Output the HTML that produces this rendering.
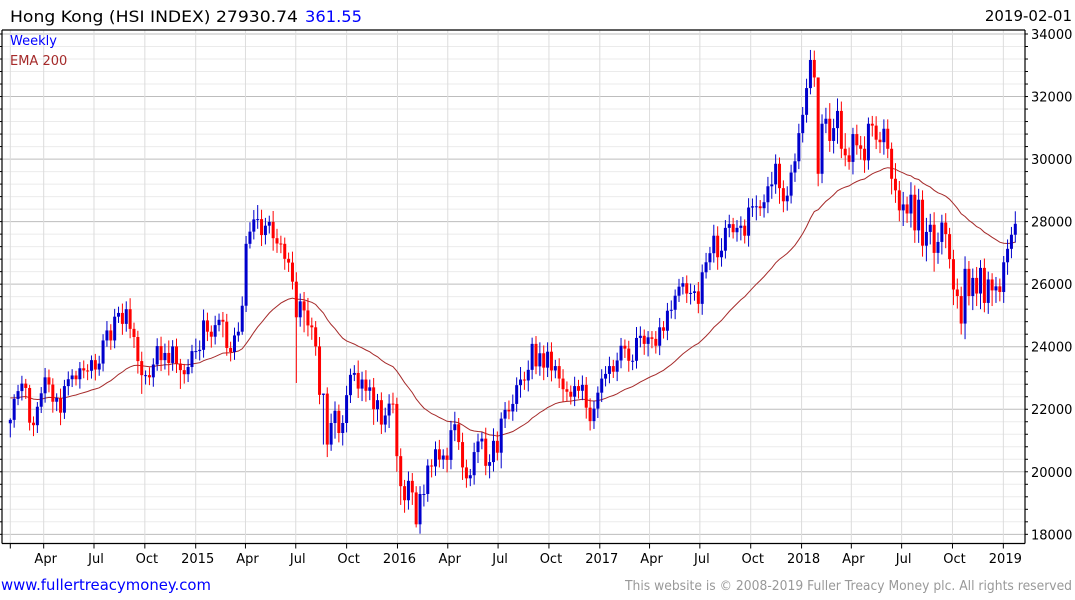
<!DOCTYPE html>
<html><head><meta charset="utf-8"><style>
html,body{margin:0;padding:0;background:#fff;}
svg{display:block;font-family:"DejaVu Sans","Liberation Sans",sans-serif;}
</style></head><body>
<svg id="chart" width="1075" height="600" viewBox="0 0 1075 600" xmlns="http://www.w3.org/2000/svg">
<rect x="0" y="0" width="1075" height="600" fill="#fff"/>
<g id="grid"></g>
<g id="ema"></g>
<g id="candles"></g>
<g id="axes"></g>
<text x="10" y="22" font-size="16" fill="#000" textLength="288" lengthAdjust="spacingAndGlyphs">Hong Kong (HSI INDEX) 27930.74</text>
<text x="305" y="22" font-size="16" fill="#0000ff" textLength="57" lengthAdjust="spacingAndGlyphs">361.55</text>
<text x="1072" y="21" font-size="15" fill="#000" text-anchor="end">2019-02-01</text>
<text x="10" y="45" font-size="13" fill="#0000ff">Weekly</text>
<text x="10" y="65" font-size="13" fill="#a52a2a">EMA 200</text>
<text x="1" y="590" font-size="15" fill="#0000ff" textLength="210" lengthAdjust="spacingAndGlyphs">www.fullertreacymoney.com</text>
<text x="625" y="590" font-size="13" fill="#999" textLength="447" lengthAdjust="spacingAndGlyphs">This website is © 2008-2019 Fuller Treacy Money plc. All rights reserved</text>
</svg>
<script>
const closes=[
21660,22330,22580,22820,22680,21570,21490,22080,22510,23020,
22790,22240,22360,21890,22740,22960,23080,22960,23310,23240,
23230,23570,23270,23460,24200,24520,24200,24960,25080,24730,
25200,24570,24310,23540,23090,23090,23020,23430,24020,23570,
23800,23480,24010,23460,23250,23120,23350,23860,23860,23900,
24840,24480,24320,24690,24860,24800,23960,23830,24360,24480,
25310,27290,27680,28070,28080,27570,27870,27990,27470,27300,
27290,26810,26690,26080,24940,25450,25160,24680,24620,24010,
22460,22500,20870,21560,21950,21240,21560,22450,23100,23160,
22660,22950,22590,22700,22000,22290,21510,21800,22180,22170,
20500,19540,19090,19710,19340,18320,19290,19290,20200,
20170,20720,20390,20520,20380,21330,21520,20950,20140,19790,19890,
20630,20970,21060,20190,20310,20990,20610,21700,21980,21930,
22170,22770,22950,22920,23260,24090,23370,23790,23330,23840,
23240,23380,22980,22640,22560,22400,22740,22590,22780,22050,
21620,22020,22530,22980,23130,23380,23200,23560,
24030,23940,23550,23550,24280,24350,24090,24300,24250,24030,
24620,24510,25150,25180,25630,25920,26030,25700,25720,25770,
25370,26380,26700,26990,27550,26860,27070,27800,27920,27660,
27800,27870,27550,28450,28490,28490,28430,28620,29130,29190,
29850,29070,28650,28830,29570,29930,30830,
31415,32270,33170,32610,29530,31130,31290,30580,30990,31540,
30330,30120,29910,30800,30440,30330,29960,31130,31070,30620,
30540,30970,30330,29370,29000,28360,28550,28260,28860,27720,
28700,27230,27670,27900,27000,27350,27970,27600,26800,25830,
25620,24740,26490,25620,26200,25700,26520,25400,26150,25800,
25930,25750,26700,27130,27580,27930
];
const firstOpen=21550;
const upperWick=[
50,150,200,250,150,100,200,150,200,300,
250,200,150,300,200,250,200,150,200,250,
200,150,200,250,200,300,200,250,200,300,
250,350,200,200,300,150,250,200,250,300,
300,400,200,250,150,200,250,200,400,300,
350,250,200,300,200,250,250,200,250,300,
300,250,300,300,450,300,250,200,350,300,
250,200,200,350,300,250,300,400,250,200,
300,0,200,300,300,200,250,300,200,250,
400,250,300,250,300,200,250,250,300,350,
200,250,200,300,250,200,250,300,200,
200,250,300,200,250,300,400,200,300,250,200,
300,250,200,350,250,400,300,200,250,300,
300,250,400,250,300,200,250,350,250,300,
300,200,250,300,250,200,300,200,300,250,
300,250,200,300,250,300,200,250,
250,200,250,200,350,300,200,200,200,250,
300,200,250,300,200,250,200,250,300,200,
300,250,300,200,350,300,400,250,300,200,
250,300,200,300,250,350,200,250,300,400,
300,200,250,300,250,250,300,
250,300,320,300,0,300,350,500,300,400,
300,500,250,200,300,300,400,200,250,300,
250,300,300,200,500,300,400,250,400,300,
350,300,450,350,400,300,250,300,200,300,
350,300,400,250,300,350,250,300,250,200,
300,250,200,300,250,400
];
const lowerWick=[
450,250,200,300,350,250,350,250,200,300,
250,350,300,400,200,300,250,200,300,250,
300,250,350,200,250,200,300,250,200,350,
250,300,350,400,600,300,250,300,200,350,
300,400,250,300,600,300,250,200,250,300,
250,300,350,250,200,500,250,300,250,200,
100,200,150,250,300,350,300,250,400,300,
300,350,300,250,2100,300,700,350,400,300,
300,1590,400,200,500,300,400,300,250,200,
300,400,350,300,500,400,300,250,400,300,
500,600,400,300,400,100,300,400,250,
350,300,250,300,400,300,350,250,400,300,250,
300,350,250,300,400,300,250,500,300,250,
300,250,400,300,350,300,250,300,400,300,
350,250,300,400,300,250,300,250,300,350,
300,250,300,300,250,300,200,300,
250,300,350,300,250,300,350,400,300,250,
300,250,300,250,300,200,250,300,350,250,
300,350,200,250,300,400,300,250,300,200,
300,400,250,350,300,450,250,300,350,400,
300,500,350,300,250,300,250,
300,250,200,300,400,300,300,350,400,500,
300,350,250,400,300,350,400,300,350,300,
350,400,300,500,400,350,500,300,450,400,
400,350,500,400,600,350,400,450,300,500,
400,350,500,300,450,400,500,300,350,500,
400,300,350,400,300,250
];
const emaSeed=22400;
const emaPeriod=40;
const yTicks=[18000,20000,22000,24000,26000,28000,30000,32000,34000];
const monthLabels=["Apr","Jul","Oct","2015","Apr","Jul","Oct","2016","Apr","Jul","Oct","2017","Apr","Jul","Oct","2018","Apr","Jul","Oct","2019"];
const monthDates=["2014-04-01","2014-07-01","2014-10-01","2015-01-01","2015-04-01","2015-07-01","2015-10-01","2016-01-01","2016-04-01","2016-07-01","2016-10-01","2017-01-01","2017-04-01","2017-07-01","2017-10-01","2018-01-01","2018-04-01","2018-07-01","2018-10-01","2019-01-01"];

const NS="http://www.w3.org/2000/svg";
const L=2,R=1025,T=30,B=543.5;
function y(v){return 34+(34000-v)*0.03127;}
function xi(i){return 10.3+i*(1005/(closes.length-1));}
function xd(s){const d=(Date.parse(s)-Date.parse("2015-01-01"))/86400000;return 195.7+d*0.5528;}
function mk(tag,attrs,parent){const e=document.createElementNS(NS,tag);for(const k in attrs)e.setAttribute(k,attrs[k]);parent.appendChild(e);return e;}

const grid=document.getElementById('grid');
const axes=document.getElementById('axes');
for(let v=18000;v<=34000;v+=400){
  const major=v%2000===0;
  const ln=mk('line',{x1:L,x2:R,y1:y(v),y2:y(v),stroke:major?'#bdbdbd':'#ebebeb','stroke-width':1},grid);
  
  
  const t=mk('line',{x1:R,x2:R+3,y1:y(v),y2:y(v),stroke:'#000'},axes);
  
  
  const t2=mk('line',{x1:L-2,x2:L,y1:y(v),y2:y(v),stroke:'#000'},axes);
  
  
}
{const ln=mk('line',{x1:xi(0),x2:xi(0),y1:T,y2:B,stroke:'#dcdcdc'},grid);


const tk=mk('line',{x1:xi(0),x2:xi(0),y1:B,y2:B+5,stroke:'#000'},axes);

}
monthDates.forEach((d,k)=>{
  const x=xd(d);
  const ln=mk('line',{x1:x,x2:x,y1:T,y2:B,stroke:'#dcdcdc'},grid);
  
  
  const tk=mk('line',{x1:x,x2:x,y1:B,y2:B+5,stroke:'#000'},axes);
  
  
  const t=mk('text',{x:x+2,y:563,'font-size':13,'text-anchor':'middle',fill:'#000'},axes);
  t.textContent=monthLabels[k];
  
  
});
yTicks.forEach(v=>{
  const t=mk('text',{x:R+6,y:y(v)+5,'font-size':13,fill:'#000'},axes);
  t.textContent=String(v);
  
  
});
[[L,T,R,T],[L,T,L,B],[R,T,R,B],[L,B,R,B]].forEach(a=>{
  const ln=mk('line',{x1:a[0],y1:a[1],x2:a[2],y2:a[3],stroke:'#000','stroke-width':1.2},axes);
  
  
});

const ema=[];let e=emaSeed;const alpha=2/(emaPeriod+1);
closes.forEach((c,i)=>{e=e+alpha*(c-e);ema.push(e);});
const pts=ema.map((v,i)=>xi(i).toFixed(1)+','+y(v).toFixed(1)).join(' ');
const pl=mk('polyline',{points:pts,fill:'none',stroke:'#a52a2a','stroke-width':1},document.getElementById('ema'));



const cg=document.getElementById('candles');
closes.forEach((c,i)=>{
  const o=i===0?firstOpen:closes[i-1];
  const up=c>=o;
  const col=up?'#0000cc':'#ff0000';
  const hi=Math.max(o,c)+upperWick[i];
  const lo=Math.min(o,c)-lowerWick[i];
  const x=xi(i);
  const g=mk('g',{},cg);
  
  
  mk('line',{x1:x,x2:x,y1:y(hi),y2:y(lo),stroke:col,'stroke-width':1},g);
  const top=y(Math.max(o,c)),bot=y(Math.min(o,c));
  mk('rect',{x:x-1.5,y:top,width:3,height:Math.max(1,bot-top),fill:col},g);
});
</script>
</body></html>
